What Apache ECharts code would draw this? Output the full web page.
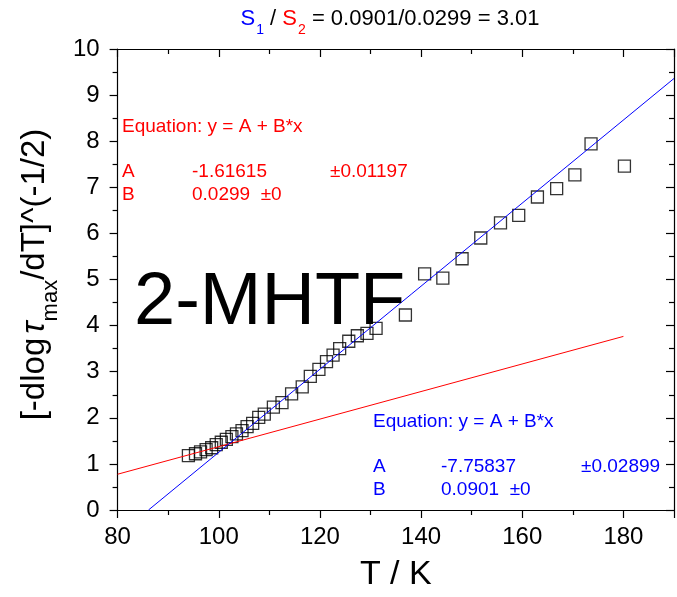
<!DOCTYPE html>
<html>
<head>
<meta charset="utf-8">
<script src="https://cdn.jsdelivr.net/npm/echarts@6/dist/echarts.min.js"></script>
<style>
  html, body { margin: 0; padding: 0; background: #fff; }
  #chart { width: 677px; height: 597px; }
</style>
</head>
<body>
<div id="chart"></div>
<script>
// Measured points: temperature (K) and [-dlog tau_max/dT]^(-1/2)
const temperature = [
  94.0, 95.4, 96.4, 97.5, 98.6, 99.5, 100.5, 101.5, 102.6, 103.5,
  104.6, 105.6, 106.7, 107.9, 109.0, 110.8, 112.5, 114.4, 116.5, 118.1,
  119.8, 121.3, 122.6, 123.9, 125.7, 127.4, 129.3, 131.1, 136.9, 140.7,
  144.3, 148.1, 151.8, 155.7, 159.3, 163.0, 166.8, 170.4, 173.6, 180.2
];
const response = [
  1.18, 1.22, 1.26, 1.31, 1.35, 1.42, 1.47, 1.53, 1.59, 1.65,
  1.72, 1.81, 1.88, 2.01, 2.08, 2.23, 2.33, 2.52, 2.67, 2.90,
  3.05, 3.22, 3.36, 3.50, 3.66, 3.78, 3.83, 3.94, 4.23, 5.12,
  5.03, 5.45, 5.90, 6.23, 6.39, 6.79, 6.97, 7.27, 7.94, 7.46
];

// Linear fits y = A + B*x
const fitLow = { A: -1.61615, errA: '±0.01197', B: 0.0299, errB: '±0', xFrom: 80, xTo: 180 };
const fitHigh = { A: -7.75837, errA: '±0.02899', B: 0.0901, errB: '±0', xTo: 190 };

const xTickLabels = [80, 100, 120, 140, 160, 180];
const yTickLabels = [0, 1, 2, 3, 4, 5, 6, 7, 8, 9, 10];

const FONT = "'Liberation Sans', Arial, sans-serif";
const RED = '#ff0000';
const BLUE = '#0000ff';
const NOTE_FONT = '19px ' + FONT;

function fitLine(fit, x0, x1) {
  return [[x0, fit.A + fit.B * x0], [x1, fit.A + fit.B * x1]];
}
const highStart = -fitHigh.A / fitHigh.B;   // where the steep fit crosses zero

const chart = echarts.init(document.getElementById('chart'), null, { renderer: 'canvas' });

const axisLine = { show: true, onZero: false, lineStyle: { color: '#000', width: 1.2 } };
const tickStyle = { color: '#000', width: 1.2 };

function frameAxis(kind, pos, inside, extra) {
  return Object.assign({
    type: 'value', position: pos,
    axisLine,
    axisTick: { show: true, inside, length: 8, lineStyle: tickStyle },
    minorTick: { show: true, splitNumber: 2, length: 5, lineStyle: tickStyle },
    splitLine: { show: false },
    axisLabel: { show: false }
  }, kind === 'x' ? { min: 80, max: 190, interval: 20 } : { min: 0, max: 10, interval: 1 }, extra || {});
}

const option = {
  backgroundColor: '#fff',
  animation: false,
  grid: { left: 103, right: 1, top: 49, bottom: 81, containLabel: false },
  xAxis: [
    frameAxis('x', 'bottom', false, {
      axisLabel: {
        show: true, color: '#000', fontSize: 24, fontFamily: FONT, margin: 15,
        formatter: v => (xTickLabels.indexOf(v) >= 0 ? String(v) : '')
      },
      name: 'T / K', nameLocation: 'middle', nameGap: 48,
      nameTextStyle: { color: '#000', fontSize: 34, fontFamily: FONT }
    }),
    frameAxis('x', 'top', true)
  ],
  yAxis: [
    frameAxis('y', 'left', false, {
      axisLabel: {
        show: true, color: '#000', fontSize: 24, fontFamily: FONT, margin: 18,
        formatter: v => (yTickLabels.indexOf(v) >= 0 ? String(v) : '')
      },
      name: '{m|[-dlog}{t|τ}{s|max}{m|/dT]^(-1/2)}',
      nameLocation: 'middle', nameGap: 45, nameRotate: 90,
      nameTextStyle: {
        color: '#000', fontFamily: FONT, padding: [0, 0, 0, 10],
        rich: {
          m: { fontSize: 33, lineHeight: 33, fontFamily: FONT, color: '#000' },
          t: { fontSize: 33, lineHeight: 33, fontFamily: FONT, fontStyle: 'italic', color: '#000', padding: [0, 0, 0, 4] },
          s: { fontSize: 22, lineHeight: 22, fontFamily: FONT, color: '#000', padding: [32, 0, 0, 0] }
        }
      }
    }),
    frameAxis('y', 'right', true)
  ],
  series: [
    {
      name: 'data', type: 'scatter', xAxisIndex: 0, yAxisIndex: 0,
      symbol: 'rect', symbolSize: 12,
      itemStyle: { color: 'rgba(0,0,0,0)', borderColor: '#000', borderWidth: 1.3 },
      data: temperature.map((t, i) => [t, response[i]]),
      z: 2
    },
    {
      name: 'fit low', type: 'line', xAxisIndex: 0, yAxisIndex: 0,
      showSymbol: false, symbol: 'none',
      lineStyle: { color: RED, width: 1 },
      data: fitLine(fitLow, fitLow.xFrom, fitLow.xTo),
      z: 3
    },
    {
      name: 'fit high', type: 'line', xAxisIndex: 0, yAxisIndex: 0,
      showSymbol: false, symbol: 'none',
      lineStyle: { color: BLUE, width: 1 },
      data: fitLine(fitHigh, highStart, fitHigh.xTo),
      z: 3
    }
  ],
  graphic: [
    {
      type: 'text', x: 390, y: 8, z: 10,
      style: {
        text: '{s|S}{d1|1}{k| / }{r|S}{d2|2}{k| = ' + fitHigh.B + '/' + fitLow.B + ' = ' +
              (fitHigh.B / fitLow.B).toFixed(2) + '}',
        align: 'center', verticalAlign: 'top',
        rich: {
          s: { fontSize: 22, lineHeight: 22, fontFamily: FONT, fill: BLUE, color: BLUE },
          r: { fontSize: 22, lineHeight: 22, fontFamily: FONT, fill: RED, color: RED },
          k: { fontSize: 22, lineHeight: 22, fontFamily: FONT, fill: '#000', color: '#000' },
          d1: { fontSize: 14, lineHeight: 14, fontFamily: FONT, fill: BLUE, color: BLUE, padding: [23, 0, 0, 1] },
          d2: { fontSize: 14, lineHeight: 14, fontFamily: FONT, fill: RED, color: RED, padding: [23, 0, 0, 1] }
        }
      }
    },
    {
      type: 'text', x: 134, y: 304, z: 10,
      style: { text: '2-MHTF', font: '74px ' + FONT, fill: '#000', verticalAlign: 'middle' }
    },
    // low-temperature fit results
    { type: 'text', x: 122, y: 127, z: 10, style: { text: 'Equation: y = A + B*x', font: NOTE_FONT, fill: RED, verticalAlign: 'middle' } },
    { type: 'text', x: 122, y: 172, z: 10, style: { text: 'A', font: NOTE_FONT, fill: RED, verticalAlign: 'middle' } },
    { type: 'text', x: 192, y: 172, z: 10, style: { text: String(fitLow.A), font: NOTE_FONT, fill: RED, verticalAlign: 'middle' } },
    { type: 'text', x: 330, y: 172, z: 10, style: { text: fitLow.errA, font: NOTE_FONT, fill: RED, verticalAlign: 'middle' } },
    { type: 'text', x: 122, y: 195, z: 10, style: { text: 'B', font: NOTE_FONT, fill: RED, verticalAlign: 'middle' } },
    { type: 'text', x: 192, y: 195, z: 10, style: { text: fitLow.B + '  ' + fitLow.errB, font: NOTE_FONT, fill: RED, verticalAlign: 'middle' } },
    // high-temperature fit results
    { type: 'text', x: 373, y: 422, z: 10, style: { text: 'Equation: y = A + B*x', font: NOTE_FONT, fill: BLUE, verticalAlign: 'middle' } },
    { type: 'text', x: 373, y: 467, z: 10, style: { text: 'A', font: NOTE_FONT, fill: BLUE, verticalAlign: 'middle' } },
    { type: 'text', x: 441, y: 467, z: 10, style: { text: String(fitHigh.A), font: NOTE_FONT, fill: BLUE, verticalAlign: 'middle' } },
    { type: 'text', x: 581, y: 467, z: 10, style: { text: fitHigh.errA, font: NOTE_FONT, fill: BLUE, verticalAlign: 'middle' } },
    { type: 'text', x: 373, y: 490, z: 10, style: { text: 'B', font: NOTE_FONT, fill: BLUE, verticalAlign: 'middle' } },
    { type: 'text', x: 441, y: 490, z: 10, style: { text: fitHigh.B + '  ' + fitHigh.errB, font: NOTE_FONT, fill: BLUE, verticalAlign: 'middle' } }
  ]
};

chart.setOption(option);
</script>
</body>
</html>
